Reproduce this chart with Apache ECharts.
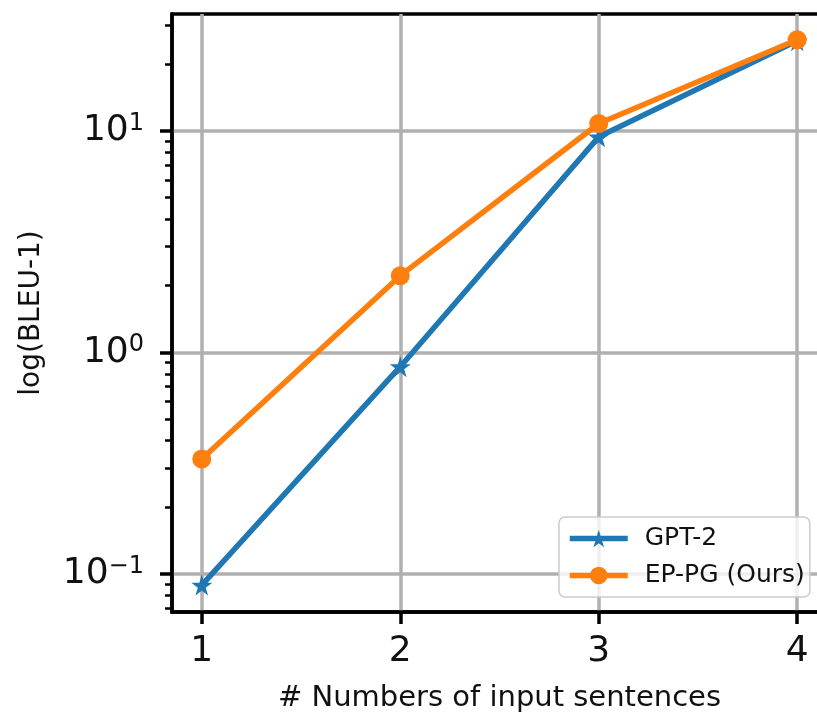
<!DOCTYPE html>
<html>
<head>
<meta charset="utf-8">
<script src="https://cdn.jsdelivr.net/npm/echarts@6/dist/echarts.min.js"></script>
<style>
html, body { margin: 0; padding: 0; background: #fff; }
#echarts { width: 817px; height: 715px; }
</style>
</head>
<body>
<div id="echarts"></div>
<script>
// data
var sentences = [1, 2, 3, 4];
var gpt2 = [0.089, 0.862, 9.4, 25.5];
var eppg = [0.33, 2.22, 10.8, 25.8];
var xTicks = [1, 2, 3, 4];
var yTicks = [0.1, 1, 10];
var yMinorTicks = [0.07, 0.08, 0.09, 0.2, 0.3, 0.4, 0.5, 0.6, 0.7, 0.8, 0.9,
    2, 3, 4, 5, 6, 7, 8, 9, 20, 30];

var FONT = 'DejaVu Sans';
var STAR = 'path://M50,0 L61,35 L98,35 L68,57 L79,91 L50,70 L21,91 L32,57 L2,35 L39,35 Z';

function pairs(ys) {
    return sentences.map(function (x, i) { return [x, ys[i]]; });
}

var myChart = echarts.init(document.getElementById('echarts'));
option = {
    animation: false,
    textStyle: { fontFamily: FONT },
    grid: {
        left: 172,
        right: -10,
        top: 14,
        bottom: 103,
        show: true,
        borderColor: '#000',
        borderWidth: 3.5,
        outerBoundsMode: 'none'
    },
    legend: {
        orient: 'vertical',
        left: 559,
        top: 517,
        padding: [9, 5, 9, 8],
        itemWidth: 58,
        itemHeight: 22,
        itemGap: 12,
        backgroundColor: 'rgba(255,255,255,0.8)',
        borderColor: '#cccccc',
        borderWidth: 1.5,
        borderRadius: 6,
        lineStyle: { width: 5.5 },
        textStyle: { fontFamily: FONT, fontSize: 25, color: '#111', padding: [0, 0, 0, 12] },
        data: ['GPT-2', 'EP-PG (Ours)']
    },
    xAxis: {
        type: 'value',
        min: 0.85,
        max: 4.15,
        name: '# Numbers of input sentences',
        nameLocation: 'middle',
        nameGap: 72,
        nameTextStyle: { fontFamily: FONT, fontSize: 29, color: '#111' },
        axisLine: { lineStyle: { color: '#000', width: 3.5 } },
        axisTick: { customValues: xTicks, length: 12, lineStyle: { color: '#000', width: 3.5 } },
        axisLabel: { customValues: xTicks, fontFamily: FONT, fontSize: 36, color: '#111', margin: 22 },
        splitLine: { show: true, lineStyle: { color: '#b0b0b0', width: 3.5 } }
    },
    yAxis: [
    {
        type: 'log',
        logBase: 10,
        min: 0.0673,
        max: 33.7,
        name: 'log(BLEU-1)',
        nameLocation: 'middle',
        nameGap: 126,
        nameTextStyle: { fontFamily: FONT, fontSize: 28, color: '#111' },
        axisLine: { lineStyle: { color: '#000', width: 3.5 } },
        axisTick: { customValues: yTicks, length: 12, lineStyle: { color: '#000', width: 3.5 } },
        axisLabel: {
            customValues: yTicks,
            margin: 28,
            color: '#111',
            formatter: function (v) {
                var e = Math.round(Math.log10(v));
                return '{b|10}{s|' + (e < 0 ? '\u2212' + (-e) : e) + '}';
            },
            rich: {
                b: { fontFamily: FONT, fontSize: 36, color: '#111' },
                s: { fontFamily: FONT, fontSize: 24, color: '#111', padding: [0, 0, 15, 0] }
            }
        },
        splitLine: { show: true, lineStyle: { color: '#b0b0b0', width: 3.5 } }
    },
    {
        // minor ticks only
        type: 'log',
        logBase: 10,
        min: 0.0673,
        max: 33.7,
        position: 'left',
        axisLine: { show: false },
        axisTick: { customValues: yMinorTicks, length: 7, lineStyle: { color: '#000', width: 2.5 } },
        axisLabel: { show: false },
        splitLine: { show: false }
    }
    ],
    series: [
    {
        name: 'GPT-2',
        type: 'line',
        yAxisIndex: 0,
        data: pairs(gpt2),
        symbol: STAR,
        symbolSize: 21,
        itemStyle: { color: '#1f77b4' },
        lineStyle: { color: '#1f77b4', width: 5.5 }
    },
    {
        name: 'EP-PG (Ours)',
        type: 'line',
        yAxisIndex: 0,
        data: pairs(eppg),
        symbol: 'circle',
        symbolSize: 19,
        itemStyle: { color: '#ff7f0e' },
        lineStyle: { color: '#ff7f0e', width: 5.5 }
    }
    ]
};
myChart.setOption(option);
</script>
</body>
</html>
